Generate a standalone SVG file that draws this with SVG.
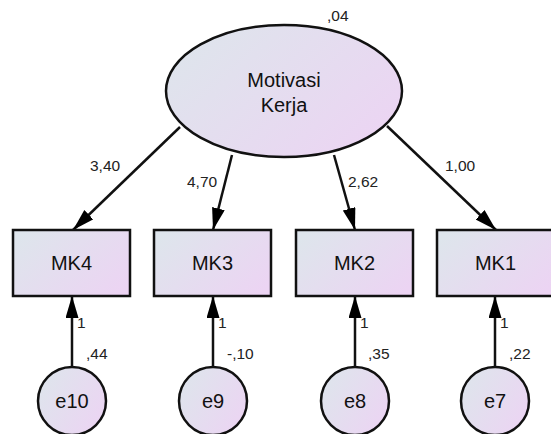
<svg xmlns="http://www.w3.org/2000/svg" width="551" height="434" viewBox="0 0 551 434">
  <defs>
    <linearGradient id="fill" x1="0" y1="0.2" x2="1" y2="0.8">
      <stop offset="0" stop-color="#dee5ec"/>
      <stop offset="1" stop-color="#ecd4f3"/>
    </linearGradient>
    <marker id="arr" markerUnits="userSpaceOnUse" markerWidth="24" markerHeight="14" refX="22" refY="6.5" orient="auto">
      <path d="M0,0 L22,6.5 L0,13 z" fill="#000"/>
    </marker>
  </defs>
  <style>
    .shape { fill: url(#fill); stroke: #111; stroke-width: 2.5; }
    .conn { stroke: #111; stroke-width: 2.5; fill: none; marker-end: url(#arr); }
    .lbl { font-family: "Liberation Sans", Arial, sans-serif; font-size: 20px; fill: #111; text-anchor: middle; }
    .num { font-family: "Liberation Sans", Arial, sans-serif; font-size: 15.5px; fill: #222; }
  </style>
  <rect width="551" height="434" fill="#fff"/>

  <g id="connectors">
    <line class="conn" x1="180" y1="127" x2="73" y2="230"/>
    <line class="conn" x1="232" y1="155" x2="213" y2="230"/>
    <line class="conn" x1="334" y1="155" x2="355" y2="230"/>
    <line class="conn" x1="387" y1="126" x2="496" y2="230"/>
    <line class="conn" x1="72" y1="367" x2="72" y2="296"/>
    <line class="conn" x1="213" y1="367" x2="213" y2="296"/>
    <line class="conn" x1="355" y1="367" x2="355" y2="296"/>
    <line class="conn" x1="495" y1="367" x2="495" y2="296"/>
    <text class="num" x="90" y="171">3,40</text>
    <text class="num" x="187" y="187">4,70</text>
    <text class="num" x="348" y="187">2,62</text>
    <text class="num" x="445" y="171">1,00</text>
    <text class="num" x="77" y="328">1</text>
    <text class="num" x="218" y="328">1</text>
    <text class="num" x="360" y="328">1</text>
    <text class="num" x="500" y="328">1</text>
  </g>

  <g id="motivasi-kerja">
    <ellipse class="shape" cx="284" cy="91" rx="118" ry="66"/>
    <text class="lbl" x="284" y="87">Motivasi</text>
    <text class="lbl" x="284" y="112">Kerja</text>
    <text class="num" x="327" y="21">,04</text>
  </g>

  <g id="MK4">
    <rect class="shape" x="13" y="230" width="117" height="66"/>
    <text class="lbl" x="71.5" y="270">MK4</text>
  </g>
  <g id="MK3">
    <rect class="shape" x="154" y="230" width="117" height="66"/>
    <text class="lbl" x="212.5" y="270">MK3</text>
  </g>
  <g id="MK2">
    <rect class="shape" x="296" y="230" width="117" height="66"/>
    <text class="lbl" x="354.5" y="270">MK2</text>
  </g>
  <g id="MK1">
    <rect class="shape" x="437" y="230" width="117" height="66"/>
    <text class="lbl" x="495.5" y="270">MK1</text>
  </g>

  <g id="e10">
    <circle class="shape" cx="72" cy="401" r="34"/>
    <text class="lbl" x="72" y="408">e10</text>
    <text class="num" x="86" y="359">,44</text>
  </g>
  <g id="e9">
    <circle class="shape" cx="213" cy="401" r="34"/>
    <text class="lbl" x="213" y="408">e9</text>
    <text class="num" x="227" y="359">-,10</text>
  </g>
  <g id="e8">
    <circle class="shape" cx="355" cy="401" r="34"/>
    <text class="lbl" x="355" y="408">e8</text>
    <text class="num" x="368" y="359">,35</text>
  </g>
  <g id="e7">
    <circle class="shape" cx="495" cy="401" r="34"/>
    <text class="lbl" x="495" y="408">e7</text>
    <text class="num" x="509" y="359">,22</text>
  </g>
</svg>
